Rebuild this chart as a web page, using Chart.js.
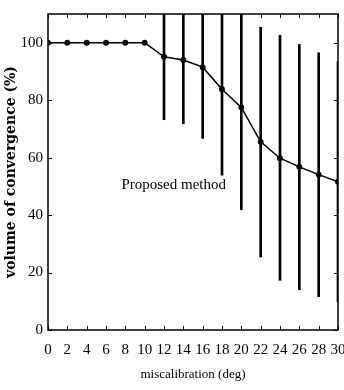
<!DOCTYPE html>
<html><head><meta charset="utf-8">
<script src="https://cdn.jsdelivr.net/npm/chart.js@4"></script>
<style>html,body{margin:0;padding:0;background:#fff}</style>
</head><body>
<canvas id="c" width="344" height="390"></canvas>
<script>
const miscalibration = [0,2,4,6,8,10,12,14,16,18,20,22,24,26,28,30];
const convergence   = [100,100,100,100,100,100,95.1,94.0,91.5,83.8,77.5,65.5,59.8,56.8,54.1,51.6];
const errLow        = [null,null,null,null,null,null,73.2,71.8,66.7,53.9,41.9,25.4,17.3,14.0,11.6,9.8];
const errHigh       = [null,null,null,null,null,null,117,116.2,116.3,113.7,113.1,105.4,102.6,99.4,96.5,93.4];
const xTicks = [0,2,4,6,8,10,12,14,16,18,20,22,24,26,28,30];
const yTicks = [0,20,40,60,80,100];
const annotationText = 'Proposed method';

const lineData = miscalibration.map((x,i)=>({x, y: convergence[i]}));
const barData = miscalibration.map((x,i)=> errLow[i]===null ? null : ({x, y:[errLow[i], errHigh[i]]})).filter(d=>d);

const boxPlugin = {
  id:'box',
  beforeDraw(chart){
    const c=chart.ctx; c.save(); c.fillStyle='#fff'; c.fillRect(0,0,chart.width,chart.height); c.restore();
  },
  afterDraw(chart){
    const {ctx, chartArea:a, scales:{x,y}} = chart;
    ctx.save();
    ctx.strokeStyle='#000'; ctx.lineWidth=1.5;
    ctx.strokeRect(a.left, a.top, a.right-a.left, a.bottom-a.top);
    ctx.lineWidth=1;
    ctx.beginPath();
    xTicks.forEach(v=>{ const px=Math.round(x.getPixelForValue(v))+0.5;
      ctx.moveTo(px,a.bottom); ctx.lineTo(px,a.bottom-4);
      ctx.moveTo(px,a.top); ctx.lineTo(px,a.top+4); });
    yTicks.forEach(v=>{ const py=Math.round(y.getPixelForValue(v))+0.5;
      ctx.moveTo(a.left,py); ctx.lineTo(a.left+4,py);
      ctx.moveTo(a.right,py); ctx.lineTo(a.right-4,py); });
    ctx.stroke();
    ctx.fillStyle='#000';
    ctx.font='15px "Liberation Serif"';
    ctx.textAlign='center'; ctx.textBaseline='middle';
    ctx.fillText(annotationText, x.getPixelForValue(13), y.getPixelForValue(50.3));
    ctx.restore();
  }
};

new Chart(document.getElementById('c'), {
  type:'line',
  data:{datasets:[
    {type:'line', data: lineData, borderColor:'#000', borderWidth:1.5, pointRadius:2.2,
     pointBackgroundColor:'#000', pointBorderColor:'#000', tension:0, order:0},
    {type:'bar', data: barData, backgroundColor:'#000', barThickness:2, order:1}
  ]},
  options:{
    responsive:false, devicePixelRatio:1, animation:false,
    layout:{padding:{top:8,right:6,left:0,bottom:0}},
    plugins:{legend:{display:false}, tooltip:{enabled:false}},
    scales:{
      x:{type:'linear', min:0, max:30, offset:false,
        afterBuildTicks:s=>{s.ticks = xTicks.map(v=>({value:v}));},
        afterFit:s=>{s.height=60; s.paddingRight=0; s.paddingLeft=0;},
        grid:{display:false, drawTicks:false}, border:{display:false},
        ticks:{color:'#000', padding:11, maxRotation:0, autoSkip:false, font:{family:'Liberation Serif', size:15}},
        title:{display:true, text:'miscalibration (deg)', color:'#000', padding:{top:0,bottom:8}, font:{family:'Liberation Serif', size:13}}
      },
      y:{type:'linear', min:0, max:110,
        afterBuildTicks:s=>{s.ticks = yTicks.map(v=>({value:v}));},
        afterFit:s=>{s.width=48;},
        grid:{display:false, drawTicks:false}, border:{display:false},
        ticks:{color:'#000', padding:5, font:{family:'Liberation Serif', size:15}},
        title:{display:true, text:'volume of convergence (%)', color:'#000', padding:{top:3,bottom:0}, font:{family:'DejaVu Serif', size:14, weight:'bold'}}
      }
    }
  },
  plugins:[boxPlugin]
});
</script>
</body></html>
